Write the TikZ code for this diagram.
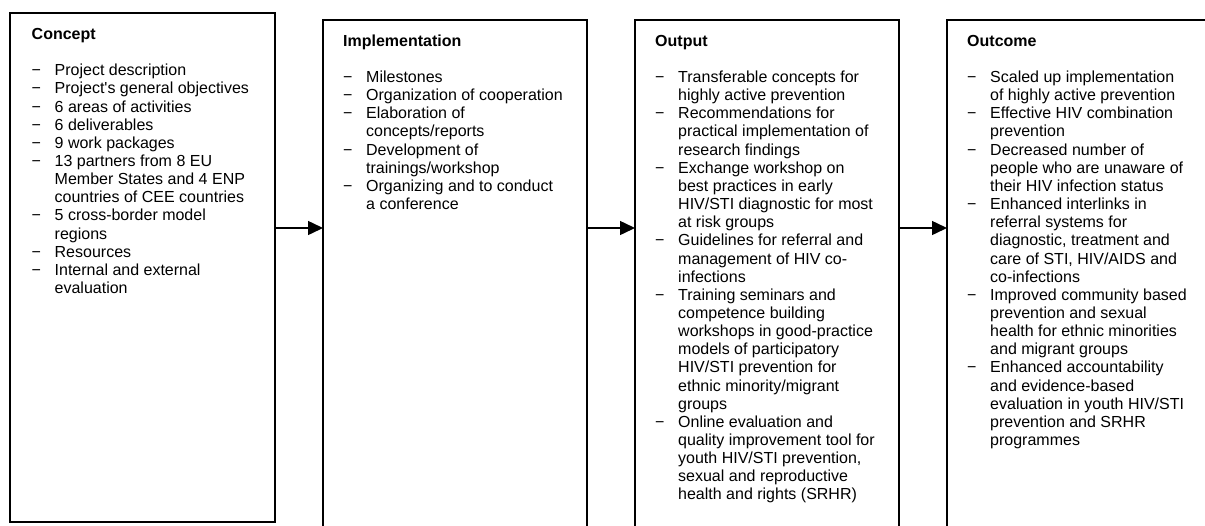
\documentclass[tikz,border=0pt]{standalone}
\usepackage{fontspec}
\setmainfont{Liberation Sans}
\usetikzlibrary{positioning,arrows.meta}
\newcommand{\itm}{\makebox[23pt][l]{−}}
\newcommand{\cnt}{\hspace*{23pt}}

\begin{document}
\begin{tikzpicture}[x=1pt,y=-1pt,
  stage/.style={draw=black,line width=1.5pt,minimum width=264pt,minimum height=540pt,inner sep=0pt,outer sep=0pt},
  items/.style={anchor=north west,align=left,inner sep=0pt,font=\fontsize{16}{18.15}\selectfont},
  flow/.style={-{Triangle[length=15pt,width=14pt]}}]
\useasboundingbox (0,0) rectangle (1205,525);
\clip (0,0) rectangle (1205,525);

\node[stage,minimum width=265pt,minimum height=509pt,anchor=north west] (concept) at (10,13) {};
\node[stage,below right=7pt and 48pt of concept.north east] (implementation) {};
\node[stage,right=48pt of implementation] (output) {};
\node[stage,right=48pt of output] (outcome) {};

\node[items] (concepttext) at ([xshift=21.5pt,yshift=-13.5pt]concept.north west) {\strut\textbf{Concept}\\[18.15pt]
\itm Project description\\
\itm Project\textquotesingle s general objectives\\
\itm 6 areas of activities\\
\itm 6 deliverables\\
\itm 9 work packages\\
\itm 13 partners from 8 EU\\
\cnt Member States and 4 ENP\\
\cnt countries of CEE countries\\
\itm 5 cross-border model\\
\cnt regions\\
\itm Resources\\
\itm Internal and external\\
\cnt evaluation};

\node[items] (implementationtext) at ([xshift=20pt,yshift=-13.3pt]implementation.north west) {\strut\textbf{Implementation}\\[18.15pt]
\itm Milestones\\
\itm Organization of cooperation\\
\itm Elaboration of\\
\cnt concepts/reports\\
\itm Development of\\
\cnt trainings/workshop\\
\itm Organizing and to conduct\\
\cnt a conference};

\node[items] (outputtext) at ([xshift=20pt,yshift=-13.3pt]output.north west) {\strut\textbf{Output}\\[18.15pt]
\itm Transferable concepts for\\
\cnt highly active prevention\\
\itm Recommendations for\\
\cnt practical implementation of\\
\cnt research findings\\
\itm Exchange workshop on\\
\cnt best practices in early\\
\cnt HIV/STI diagnostic for most\\
\cnt at risk groups\\
\itm Guidelines for referral and\\
\cnt management of HIV co-\\
\cnt infections\\
\itm Training seminars and\\
\cnt competence building\\
\cnt workshops in good-practice\\
\cnt models of participatory\\
\cnt HIV/STI prevention for\\
\cnt ethnic minority/migrant\\
\cnt groups\\
\itm Online evaluation and\\
\cnt quality improvement tool for\\
\cnt youth HIV/STI prevention,\\
\cnt sexual and reproductive\\
\cnt health and rights (SRHR)};

\node[items] (outcometext) at ([xshift=20pt,yshift=-13.3pt]outcome.north west) {\strut\textbf{Outcome}\\[18.15pt]
\itm Scaled up implementation\\
\cnt of highly active prevention\\
\itm Effective HIV combination\\
\cnt prevention\\
\itm Decreased number of\\
\cnt people who are unaware of\\
\cnt their HIV infection status\\
\itm Enhanced interlinks in\\
\cnt referral systems for\\
\cnt diagnostic, treatment and\\
\cnt care of STI, HIV/AIDS and\\
\cnt co-infections\\
\itm Improved community based\\
\cnt prevention and sexual\\
\cnt health for ethnic minorities\\
\cnt and migrant groups\\
\itm Enhanced accountability\\
\cnt and evidence-based\\
\cnt evaluation in youth HIV/STI\\
\cnt prevention and SRHR\\
\cnt programmes};

\coordinate (flowrow) at (0,228);
\draw[line width=1.5pt]
(concept.east |- flowrow)edge[flow](implementation.west |- flowrow)
(implementation.east |- flowrow)edge[flow](output.west |- flowrow)
(output.east |- flowrow)edge[flow](outcome.west |- flowrow)
;

\end{tikzpicture}
\end{document}
